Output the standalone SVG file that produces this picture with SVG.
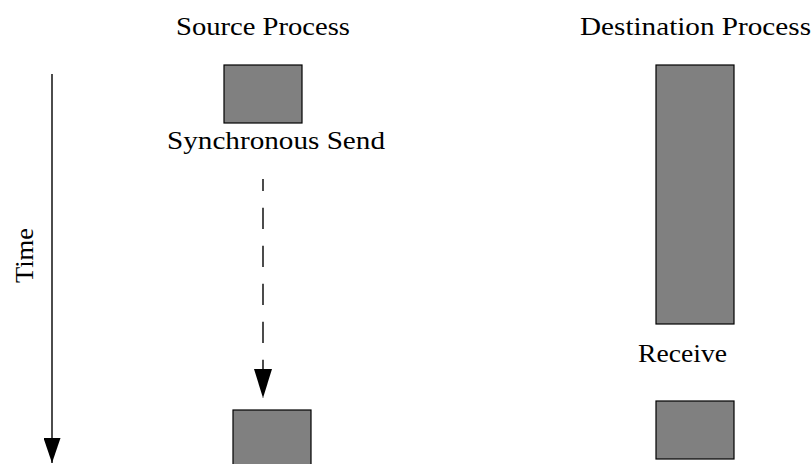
<svg xmlns="http://www.w3.org/2000/svg" width="812" height="464" viewBox="0 0 812 464">
<defs>
<style>
.box{fill:#808080;stroke:#000;stroke-width:1.2}
.t{font-family:"Liberation Serif","Times New Roman",serif;font-size:26px;fill:#000}
.ln{stroke:#000;stroke-width:1.4;fill:none}
</style>
<marker id="ah" markerUnits="userSpaceOnUse" markerWidth="29" markerHeight="18" refX="29" refY="9" orient="auto" viewBox="0 0 29 18">
<path d="M0,0 L29,9 L0,18 Z" fill="#000"/>
</marker>
<marker id="ah2" markerUnits="userSpaceOnUse" markerWidth="25" markerHeight="17" refX="25" refY="8.5" orient="auto" viewBox="0 0 25 17">
<path d="M0,0 L25,8.5 L0,17 Z" fill="#000"/>
</marker>
</defs>
<rect width="812" height="464" fill="#fff"/>
<g id="labels">
<text class="t" x="176" y="35" textLength="174" lengthAdjust="spacingAndGlyphs">Source Process</text>
<text class="t" x="580" y="35" textLength="231" lengthAdjust="spacingAndGlyphs">Destination Process</text>
<text class="t" transform="translate(33,283) rotate(-90)" x="0" y="0" textLength="55" lengthAdjust="spacingAndGlyphs">Time</text>
</g>
<g id="send">
<rect class="box" x="224" y="65" width="78" height="58"/>
<text class="t" x="167" y="149" textLength="218" lengthAdjust="spacingAndGlyphs">Synchronous Send</text>
</g>
<g id="send-done">
<rect class="box" x="233" y="410" width="78" height="60"/>
</g>
<g id="dest-wait">
<rect class="box" x="656" y="65" width="78" height="259"/>
</g>
<g id="receive">
<text class="t" x="638" y="362" textLength="89" lengthAdjust="spacingAndGlyphs">Receive</text>
<rect class="box" x="656" y="401" width="78" height="58"/>
</g>
<g id="connectors">
<line class="ln" x1="52" y1="74" x2="52" y2="463" marker-end="url(#ah2)" stroke-width="1.3"/>
<line class="ln" x1="263" y1="179" x2="263" y2="398" stroke-dasharray="12 16.7 21.3 16.7 21.3 16.7 21.3 16.7 21.3 16.7 21.3 16.7 21.3 16.7" marker-end="url(#ah)"/>
</g>
</svg>
